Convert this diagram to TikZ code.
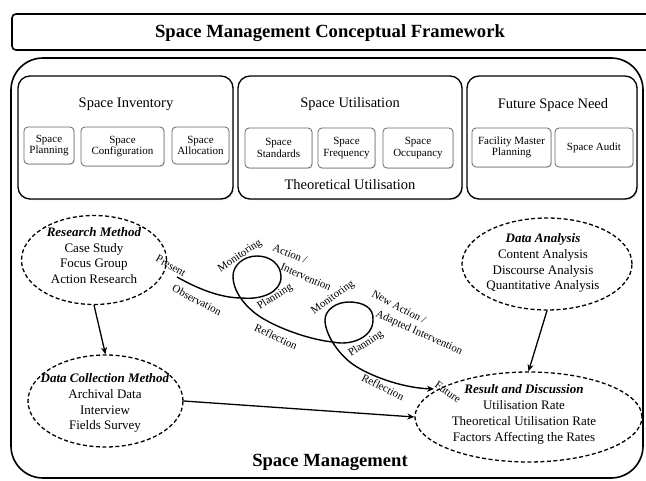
\documentclass[tikz,border=0pt]{standalone}
\usepackage{fontspec}
\setmainfont{Liberation Serif}
\usetikzlibrary{shapes.geometric,arrows.meta,shadows}
\begin{document}
\begin{tikzpicture}[x=1pt,y=-1pt,
  frame/.style={draw=black, line width=1.6pt, inner sep=0, fill=white},
  bigbox/.style={draw=black, line width=1.3pt, rounded corners=12pt, fill=white, inner sep=0,
     drop shadow={opacity=0.3,shadow xshift=1.2pt,shadow yshift=-1.2pt}},
  smallbox/.style={draw=black!60, line width=0.8pt, rounded corners=4pt, fill=white, align=center, inner sep=0,
     drop shadow={opacity=0.25,shadow xshift=0.8pt,shadow yshift=-0.8pt},
     font=\fontsize{11}{11.5}\selectfont},
  boxtitle/.style={inner sep=0, font=\fontsize{14.5}{16}\selectfont},
  dashell/.style={ellipse, draw=black, line width=1.3pt, dash pattern=on 4pt off 2.5pt, inner sep=0},
  elltext/.style={align=center, inner sep=0, font=\fontsize{13}{15.8}\selectfont},
  flow/.style={line width=1.3pt, -{Stealth[length=7pt,width=6pt]}},
  cyc/.style={inner sep=0, font=\fontsize{11}{12}\selectfont},
]
\clip (0,0) rectangle (646,481);

% title bar
\node[frame, rounded corners=4pt, minimum width=648pt, minimum height=36pt,
  drop shadow={opacity=0.3,shadow xshift=1.2pt,shadow yshift=-1.2pt}] (titlebox) at (336,32) {};
\node[inner sep=0, font=\bfseries\fontsize{18.6}{20}\selectfont] (title) at (330,33) {Space Management Conceptual Framework};

% outer frame
\node[frame, rounded corners=32pt, minimum width=632pt, minimum height=420pt] (outer) at (327,268) {};
\node[inner sep=0, font=\bfseries\fontsize{18.6}{20}\selectfont] (sm) at (330,462) {Space Management};

% three top boxes
\node[bigbox, minimum width=215pt, minimum height=123pt] (inv) at (125.5,137.5) {};
\node[bigbox, minimum width=224pt, minimum height=123pt] (util) at (350,137.5) {};
\node[bigbox, minimum width=170pt, minimum height=123pt] (fut) at (552,137.5) {};

\node[boxtitle] (invt) at (126,104) {Space Inventory};
\node[boxtitle] (utilt) at (350,104) {Space Utilisation};
\node[boxtitle] (futt) at (553,105) {Future Space Need};
\node[boxtitle] (theo) at (350,185) {Theoretical Utilisation};

\node[smallbox, minimum width=50pt, minimum height=37pt] (sp) at (49,145.5) {Space\\Planning};
\node[smallbox, minimum width=83pt, minimum height=39pt] (sc) at (122.5,146.5) {Space\\Configuration};
\node[smallbox, minimum width=57pt, minimum height=37pt] (sa) at (200.5,145.5) {Space\\Allocation};
\node[smallbox, minimum width=67pt, minimum height=40pt] (ss) at (278.5,148) {Space\\Standards};
\node[smallbox, minimum width=57pt, minimum height=40pt] (sf) at (346.5,148) {Space\\Frequency};
\node[smallbox, minimum width=70pt, minimum height=40pt] (so) at (418,148) {Space\\Occupancy};
\node[smallbox, minimum width=79pt, minimum height=39pt] (fmp) at (511.5,147.5) {Facility Master\\Planning};
\node[smallbox, minimum width=78pt, minimum height=39pt] (sau) at (594,147.5) {Space Audit};

% ellipses
\node[dashell, minimum width=145pt, minimum height=89pt] (rm) at (94,260) {};
\node[elltext] (rmt) at (94,255.5) {\textbf{\textit{Research Method}}\\Case Study\\Focus Group\\Action Research};

\node[dashell, minimum width=170pt, minimum height=92pt] (da) at (547,264) {};
\node[elltext] (dat) at (543,263) {\textbf{\textit{Data Analysis}}\\Content Analysis\\Discourse Analysis\\Quantitative Analysis};

\node[dashell, minimum width=155pt, minimum height=92pt] (dcm) at (105.5,401) {};
\node[elltext] (dcmt) at (105,403) {\textbf{\textit{Data Collection Method}}\\Archival Data\\Interview\\Fields Survey};

\node[dashell, minimum width=227pt, minimum height=90pt] (rd) at (528.5,417) {};
\node[elltext] (rdt) at (524,414.5) {\textbf{\textit{Result and Discussion}}\\Utilisation Rate\\Theoretical Utilisation Rate\\Factors Affecting the Rates};

% connectors
\draw[flow] (rm.south) -- (dcm.north);
\draw[flow] (da.south) -- (rd.north);
\draw[flow] (dcm.east) -- (rd.west);

% action research cycle
\coordinate (cs) at (177,277);
\coordinate (ce) at (434,389);
\draw[line width=1.4pt, -{Stealth[length=7pt,width=6pt]}]
  (cs) .. controls (200,290) and (222,298) .. (242,298)
       .. controls (262,300) and (281,292) .. (281,277)
       .. controls (281,264) and (270,256) .. (257,256)
       .. controls (244,256) and (233,265) .. (233,276)
       .. controls (233,292) and (246,308) .. (262,318)
       .. controls (282,330) and (312,340) .. (333,342)
       .. controls (350,346) and (373,338) .. (373,320)
       .. controls (374,307) and (362,302) .. (349,302)
       .. controls (336,302) and (325,310) .. (325,320)
       .. controls (325,335) and (340,357) .. (357,367)
       .. controls (375,378) and (405,388) .. (ce);

\node[cyc, rotate=-30] (l1) at (171,266) {Present};
\node[cyc, rotate=-28] (l2) at (197,300) {Observation};
\node[cyc, rotate=34] (l3) at (240,256) {Monitoring};
\node[cyc, rotate=-22] (l4) at (290,254) {Action /};
\node[cyc, rotate=-24] (l5) at (306,277) {Intervention};
\node[cyc, rotate=32] (l6) at (275,297) {Planning};
\node[cyc, rotate=-25] (l7) at (276,337) {Reflection};
\node[cyc, rotate=36] (l8) at (333,298) {Monitoring};
\node[cyc, rotate=-28] (l9) at (399,307) {New Action /};
\node[cyc, rotate=-24] (l10) at (419,333) {Adapted Intervention};
\node[cyc, rotate=33] (l11) at (366,344) {Planning};
\node[cyc, rotate=-27] (l12) at (383,387) {Reflection};
\node[cyc, rotate=-35] (l13) at (448,392) {Future};
\end{tikzpicture}
\end{document}
